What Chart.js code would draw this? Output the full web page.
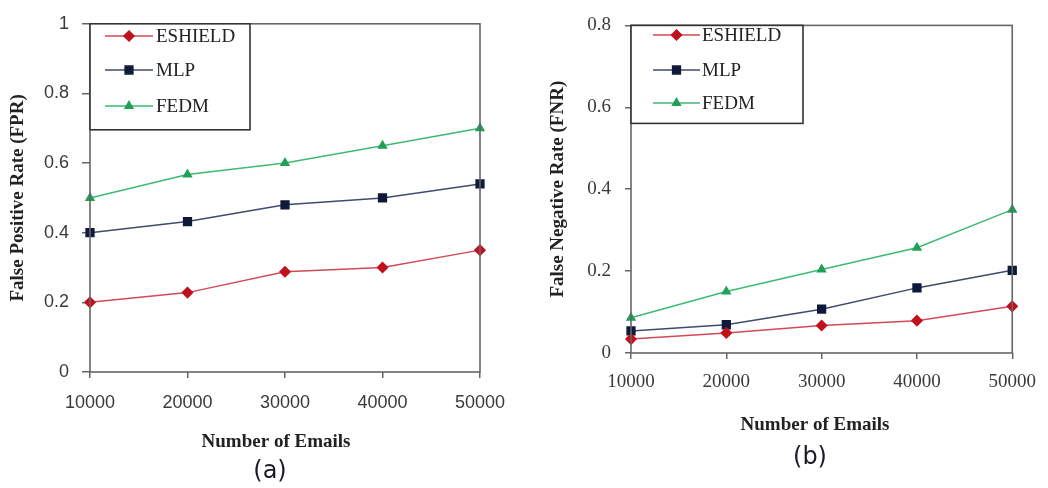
<!DOCTYPE html>
<html>
<head>
<meta charset="utf-8">
<script src="https://cdn.jsdelivr.net/npm/chart.js@4"></script>
<style>
  body { margin: 0; background: #fff; width: 1048px; height: 488px; position: relative; overflow: hidden; }
  canvas { position: absolute; top: 0; }
</style>
</head>
<body>
<canvas id="fprChart" width="520" height="488" style="left:0"></canvas>
<canvas id="fnrChart" width="528" height="488" style="left:520px"></canvas>
<script>
// values
const emails = ["10000", "20000", "30000", "40000", "50000"];
const fprEshield = [0.2, 0.228, 0.288, 0.3, 0.35];
const fprMlp = [0.4, 0.432, 0.48, 0.5, 0.54];
const fprFedm = [0.5, 0.567, 0.6, 0.65, 0.7];
const fnrEshield = [0.034, 0.049, 0.067, 0.079, 0.114];
const fnrMlp = [0.054, 0.069, 0.107, 0.159, 0.202];
const fnrFedm = [0.086, 0.15, 0.204, 0.257, 0.35];
const fprTicks = [0, 0.2, 0.4, 0.6, 0.8, 1];
const fnrTicks = [0, 0.2, 0.4, 0.6, 0.8];
const seriesNames = ["ESHIELD", "MLP", "FEDM"];

const styles = [
  { line: "#d24a57", mark: "#c0101e", point: "rectRot", r: 5 },
  { line: "#3e4b6c", mark: "#0f1a3a", point: "rect", r: 5.5 },
  { line: "#3dba74", mark: "#22a058", point: "triangle", r: 4.5 },
];

function makeDatasets(series) {
  return series.map((data, i) => ({
    label: seriesNames[i],
    data,
    borderColor: styles[i].line,
    backgroundColor: styles[i].mark,
    pointBorderColor: styles[i].mark,
    pointBackgroundColor: styles[i].mark,
    pointStyle: styles[i].point,
    pointRadius: styles[i].r,
    borderWidth: 1.5,
    tension: 0,
  }));
}

// frame, boxed legend and titles
const panelPlugin = {
  id: "panel",
  afterDraw(chart, args, o) {
    const ctx = chart.ctx;
    const a = chart.chartArea;
    ctx.save();
    ctx.strokeStyle = "#666";
    ctx.lineWidth = 1.6;
    ctx.strokeRect(a.left, a.top, a.right - a.left, a.bottom - a.top);

    // legend box
    const lg = o.legend;
    ctx.fillStyle = "#fff";
    ctx.fillRect(a.left, a.top, lg.w, lg.h);
    ctx.strokeStyle = "#333";
    ctx.lineWidth = 1.6;
    ctx.strokeRect(a.left, a.top, lg.w, lg.h);
    chart.data.datasets.forEach((ds, i) => {
      const y = lg.rows[i];
      ctx.strokeStyle = ds.borderColor;
      ctx.lineWidth = 1.5;
      ctx.beginPath();
      ctx.moveTo(lg.x0, y);
      ctx.lineTo(lg.x1, y);
      ctx.stroke();
      ctx.fillStyle = ds.pointBackgroundColor;
      ctx.strokeStyle = ds.pointBorderColor;
      Chart.helpers.drawPoint(ctx, { pointStyle: ds.pointStyle, radius: ds.pointRadius, rotation: 0, borderWidth: 1 }, (lg.x0 + lg.x1) / 2, y);
      ctx.fillStyle = "#222";
      ctx.font = lg.font;
      ctx.textAlign = "left";
      ctx.textBaseline = "middle";
      ctx.fillText(ds.label, lg.textX, y + 1);
    });

    // axis titles
    ctx.fillStyle = "#222";
    ctx.font = "bold 19px 'Liberation Serif'";
    ctx.textAlign = "center";
    ctx.textBaseline = "middle";
    ctx.fillText(o.xTitle, o.xTitleX, o.xTitleY);
    ctx.save();
    ctx.translate(o.yTitleX, (a.top + a.bottom) / 2);
    ctx.rotate(-Math.PI / 2);
    ctx.fillText(o.yTitle, 0, 0);
    ctx.restore();

    ctx.fillStyle = "#1a1a2a";
    ctx.font = "24px 'DejaVu Sans'";
    ctx.fillText(o.caption, o.captionX, o.captionY);
    ctx.restore();
  },
};

function makeChart(id, series, ticks, maxY, geo) {
  const config = {
    type: "line",
    data: { labels: emails, datasets: makeDatasets(series) },
    options: {
      responsive: false,
      animation: false,
      layout: { padding: { left: 0, top: geo.top, right: geo.right, bottom: 0 } },
      plugins: {
        legend: { display: false },
        tooltip: { enabled: false },
        panel: geo.panel,
      },
      scales: {
        x: {
          offset: false,
          border: { display: false },
          grid: { drawOnChartArea: false, drawTicks: true, tickLength: 6, color: "#666", lineWidth: 1.5 },
          ticks: { color: "#3a3a3a", font: geo.tickFont, padding: geo.xPad, maxRotation: 0 },
          afterFit: (s) => { s.height = geo.xHeight; },
        },
        y: {
          min: 0,
          max: maxY,
          border: { display: false },
          grid: { drawOnChartArea: false, drawTicks: true, tickLength: geo.yTick, color: "#666", lineWidth: 1.5 },
          ticks: {
            color: "#3a3a3a",
            font: geo.tickFont,
            padding: geo.yPad,
            callback: (v) => String(Math.round(v * 10) / 10),
          },
          afterBuildTicks: (s) => { s.ticks = ticks.map((v) => ({ value: v })); },
          afterFit: (s) => { s.width = geo.yWidth; },
        },
      },
    },
    plugins: [panelPlugin],
  };
  return new Chart(document.getElementById(id), config);
}

makeChart("fprChart", [fprEshield, fprMlp, fprFedm], fprTicks, 1, {
  top: 15, right: 40, xHeight: 116, yWidth: 90, yTick: 8, xPad: 14, yPad: 13,
  tickFont: { family: "'Liberation Sans'", size: 18 },
  panel: {
    legend: { w: 160, h: 106, rows: [36, 70, 106], x0: 105, x1: 153, textX: 156, font: "19px 'Liberation Serif'" },
    xTitle: "Number of Emails", xTitleX: 276, xTitleY: 442,
    yTitle: "False Positive Rate (FPR)", yTitleX: 18,
    caption: "(a)", captionX: 270, captionY: 472,
  },
});

makeChart("fnrChart", [fnrEshield, fnrMlp, fnrFedm], fnrTicks, 0.8, {
  top: 20, right: 30, xHeight: 135, yWidth: 111, yTick: 6, xPad: 12, yPad: 14,
  tickFont: { family: "'Liberation Serif'", size: 19 },
  panel: {
    legend: { w: 172, h: 98, rows: [35, 70, 103], x0: 133, x1: 180, textX: 182, font: "19px 'Liberation Serif'" },
    xTitle: "Number of Emails", xTitleX: 295, xTitleY: 425,
    yTitle: "False Negative Rate (FNR)", yTitleX: 38,
    caption: "(b)", captionX: 290, captionY: 458,
  },
});
</script>
</body>
</html>
